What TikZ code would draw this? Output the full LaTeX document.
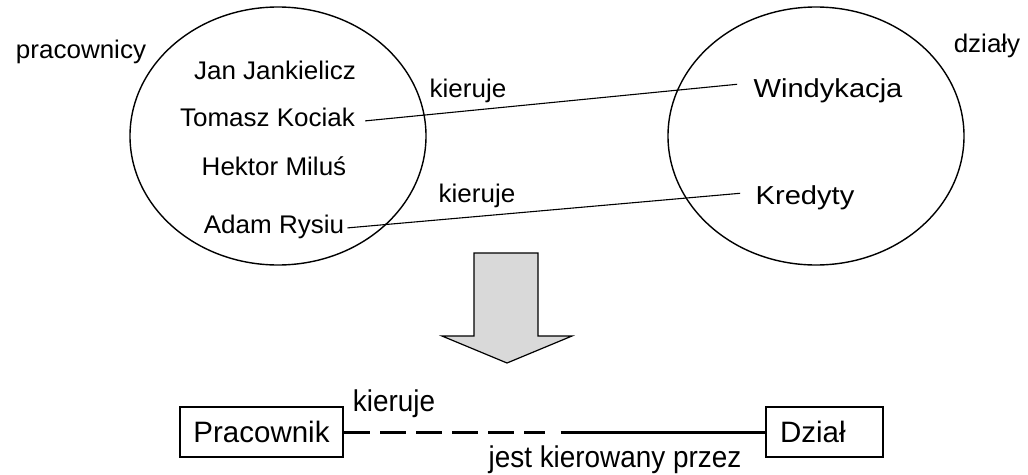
\documentclass[tikz,border=0pt]{standalone}
\usepackage{fontspec}
\setmainfont{Liberation Sans}
\usetikzlibrary{shapes.geometric}
\definecolor{arrowGray}{gray}{0.85}

\begin{document}
\begin{tikzpicture}[x=1pt, y=-1pt,
    setshape/.style={draw, ellipse, line width=1.4pt, minimum width=296pt, minimum height=258pt, inner sep=0pt},
    member/.style={anchor=base, inner sep=2pt, xscale=1.02, font=\fontsize{25.5}{29}\selectfont},
    dept/.style={anchor=base, inner sep=2pt, xscale=1.12, font=\fontsize{26}{30}\selectfont},
    rolelabel/.style={anchor=base, inner sep=2pt, xscale=0.93, font=\fontsize{30}{34}\selectfont},
    entitybox/.style={draw, line width=2.6pt, minimum height=50pt, font=\fontsize{29.5}{33}\selectfont}]
    \useasboundingbox (0,0) rectangle (1028,474);

    % zbiory
    \node[setshape] (workers) at (278,136) {};
    \node[setshape] (depts) at (816,136) {};
    \node[member] (workersName) at (81,58) {pracownicy};
    \node[member] (deptsName) at (987,52) {działy};

    \node[member] (jan) at (275,79) {Jan Jankielicz};
    \node[member] (tomasz) at (267.5,126) {Tomasz Kociak};
    \node[member] (hektor) at (274,175) {Hektor Miluś};
    \node[member] (adam) at (274,233) {Adam Rysiu};
    \node[dept] (windyk) at (828,97) {Windykacja};
    \node[dept] (kredyty) at (805,204) {Kredyty};

    \node[member] (relA) at (468,97) {kieruje};
    \node[member] (relB) at (477,202) {kieruje};
    \draw[line width=1.1pt] ([xshift=8pt,yshift=-4pt]tomasz.east) -- ([xshift=-14pt,yshift=6pt]windyk.west);
    \draw[line width=1.1pt] ([xshift=1pt,yshift=-1.5pt]adam.east) -- ([xshift=-13pt,yshift=4pt]kredyty.west);

    % strzalka
    \draw[fill=arrowGray, line width=1.2pt] (474,253) -- (538,253) -- (538,336) -- (572,336)
        -- (507,363) -- (442,336) -- (474,336) -- cycle;

    % encje
    \node[entitybox, minimum width=163pt] (prac) at (261.5,432) {Pracownik};
    \node[entitybox, minimum width=117pt, text width=89pt, inner xsep=14pt, align=left] (dzial) at (824.5,432) {Dział};
    \draw[line width=3pt, dash pattern=on 26pt off 10pt] (prac.east) -- ([xshift=-220pt]dzial.west);
    \draw[line width=3pt] ([xshift=-204pt]dzial.west) -- (dzial.west);
    \node[rolelabel] (roleA) at (394,411) {kieruje};
    \node[rolelabel] (roleB) at (615,467) {jest kierowany przez};
\end{tikzpicture}
\end{document}
